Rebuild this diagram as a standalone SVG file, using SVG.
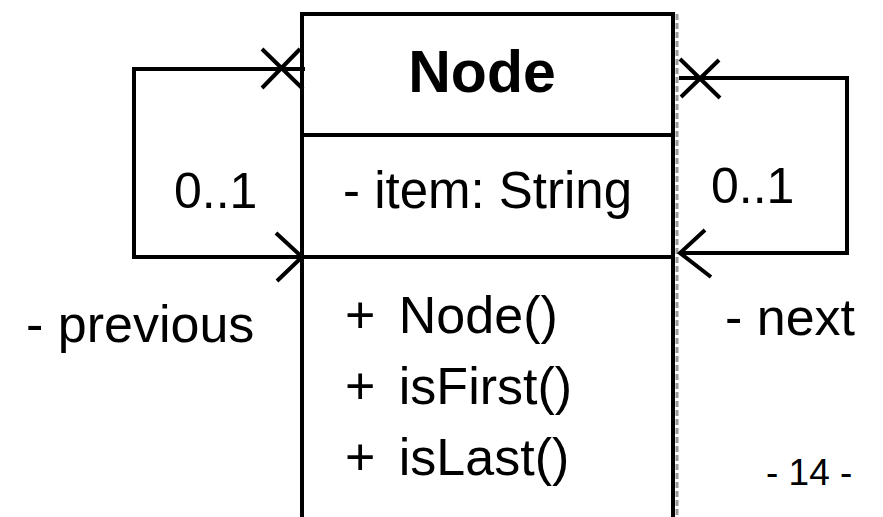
<svg xmlns="http://www.w3.org/2000/svg" width="883" height="517" viewBox="0 0 883 517">
<style>
.ln{fill:none;stroke:#000;stroke-width:4;stroke-linecap:butt;stroke-linejoin:miter}
.t{font-family:"Liberation Sans",Arial,sans-serif;font-size:52px;fill:#000}
.b{font-weight:bold;font-size:59px}
.m{word-spacing:9px}
.s{font-size:37px}
</style>
<rect width="883" height="517" fill="#fff"/>
<g id="node-Node">
<line x1="677" y1="14" x2="677" y2="517" stroke="#999" stroke-width="3" stroke-dasharray="6,3"/>
<path class="ln" d="M302,517 V14 H673 V517"/>
<line class="ln" x1="302" y1="135" x2="673" y2="135"/>
<line class="ln" x1="302" y1="257" x2="673" y2="257"/>
<text class="t b" x="482" y="92" text-anchor="middle">Node</text>
<text class="t" x="343" y="208" style="font-size:51px">- item: String</text>
<text class="t m" x="345" y="333">+ Node()</text>
<text class="t m" x="345" y="404">+ isFirst()</text>
<text class="t m" x="345" y="475">+ isLast()</text>
</g>
<g id="connectors">
<path class="ln" d="M305,69 H134 V257 H302"/>
<path class="ln" d="M262,49 L303,89 M262,88 L300,49"/>
<path class="ln" d="M276,233 L302,257 L277,281"/>
<path class="ln" d="M679,78 H847 V253 H679"/>
<path class="ln" d="M680,59 L720,98 M681,97 L719,60"/>
<path class="ln" d="M705,230 L680,253 L711,277"/>
<text class="t" x="174" y="208" style="font-size:50px">0..1</text>
<text class="t" x="711" y="203" style="font-size:50px">0..1</text>
<text class="t" x="26" y="342">- previous</text>
<text class="t" x="725" y="335">- next</text>
</g>
<text class="t s" x="766" y="485">- 14 -</text>
</svg>
